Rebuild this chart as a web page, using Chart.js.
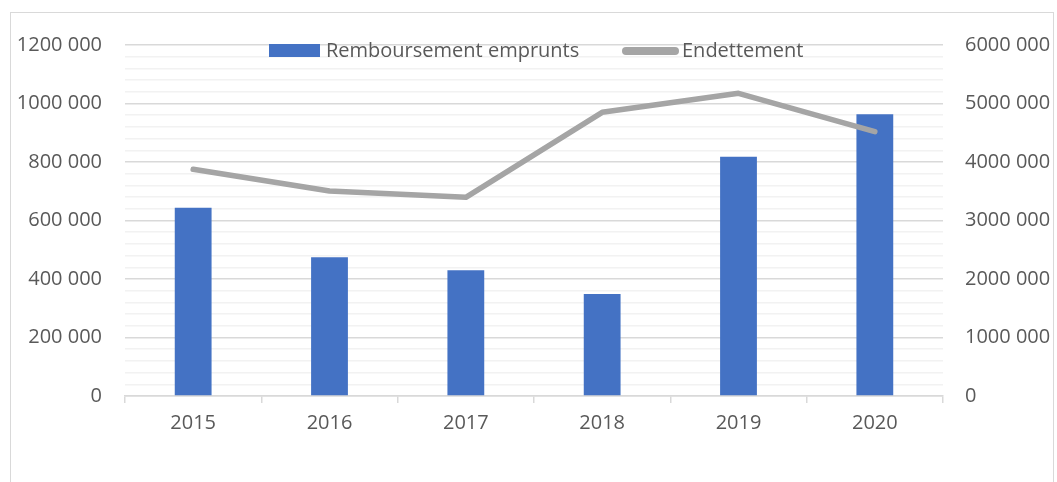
<!DOCTYPE html>
<html>
<head>
<meta charset="utf-8">
<script src="https://cdn.jsdelivr.net/npm/chart.js@4.4.1/dist/chart.umd.min.js"></script>
<style>
  html, body { margin: 0; padding: 0; background: #ffffff; }
  #wrap { position: relative; width: 1057px; height: 482px; overflow: hidden; }
  #frame { position: absolute; left: 10px; top: 12px; width: 1044px; height: 480px; border: 1px solid #d9d9d9; box-sizing: border-box; }
  #c { position: absolute; left: 0; top: 0; }
</style>
</head>
<body>
<div id="wrap">
  <div id="frame"></div>
  <canvas id="c" width="1057" height="482"></canvas>
</div>
<script>
// ---- Data ----
const categories = ['2015', '2016', '2017', '2018', '2019', '2020'];
const remboursementLabel = 'Remboursement emprunts';
const remboursement = [644000, 474000, 430000, 349000, 818000, 963000];
const endettementLabel = 'Endettement';
const endettement = [3875000, 3504000, 3396000, 4849000, 5174000, 4518000];
const leftTickLabels = ['0', '200 000', '400 000', '600 000', '800 000', '1000 000', '1200 000'];
const rightTickLabels = ['0', '1000 000', '2000 000', '3000 000', '4000 000', '5000 000', '6000 000'];

const FONT = "'Open Sans', 'Noto Sans', sans-serif";
const TEXT = '#595959';
const BAR = '#4472C4';
const LINE = '#A5A5A5';

const legendPlugin = {
  id: 'customLegend',
  afterDraw(chart) {
    const ctx = chart.ctx;
    const ds = chart.data.datasets;
    ctx.save();
    ctx.font = '20px ' + FONT;
    ctx.fillStyle = TEXT;
    ctx.textBaseline = 'alphabetic';
    // bar entry
    ctx.fillStyle = ds[0].backgroundColor;
    ctx.fillRect(269, 44, 51, 13);
    ctx.fillStyle = TEXT;
    ctx.fillText(ds[0].label, 326, 57);
    // line entry
    ctx.strokeStyle = ds[1].borderColor;
    ctx.lineWidth = 8;
    ctx.lineCap = 'round';
    ctx.beginPath();
    ctx.moveTo(626, 51);
    ctx.lineTo(675, 51);
    ctx.stroke();
    ctx.fillText(ds[1].label, 682, 57);
    ctx.restore();
  }
};

new Chart(document.getElementById('c'), {
  type: 'bar',
  data: {
    labels: categories,
    datasets: [
      {
        type: 'bar',
        label: remboursementLabel,
        data: remboursement,
        backgroundColor: BAR,
        borderWidth: 0,
        categoryPercentage: 1,
        barPercentage: 0.27,
        yAxisID: 'y',
        order: 2
      },
      {
        type: 'line',
        label: endettementLabel,
        data: endettement,
        borderColor: LINE,
        backgroundColor: LINE,
        borderWidth: 5.5,
        borderCapStyle: 'round',
        borderJoinStyle: 'round',
        pointRadius: 0,
        pointHoverRadius: 0,
        tension: 0,
        fill: false,
        yAxisID: 'y1',
        order: 1
      }
    ]
  },
  options: {
    responsive: false,
    animation: false,
    devicePixelRatio: 1,
    layout: { padding: { left: 0, right: 0, top: 45, bottom: 0 } },
    plugins: {
      legend: { display: false },
      tooltip: { enabled: false },
      title: { display: false }
    },
    scales: {
      x: {
        offset: true,
        grid: {
          offset: true,
          drawOnChartArea: false,
          drawTicks: true,
          tickLength: 7,
          color: '#d9d9d9',
          lineWidth: 1.5
        },
        border: { display: true, color: '#d9d9d9', width: 1.5 },
        ticks: {
          color: TEXT,
          font: { family: FONT, size: 20 },
          padding: 8,
          maxRotation: 0
        },
        afterFit(scale) { scale.height = 86; }
      },
      y: {
        position: 'left',
        min: 0,
        max: 1200000,
        grid: {
          drawTicks: false,
          color: (c) => (c.tick && c.tick.value % 200000 === 0) ? '#d9d9d9' : '#f2f2f2',
          lineWidth: (c) => (c.tick && c.tick.value % 200000 === 0) ? 1.5 : 1.5
        },
        border: { display: false },
        ticks: {
          stepSize: 40000,
          autoSkip: false,
          color: TEXT,
          font: { family: FONT, size: 20 },
          padding: 23,
          callback: (v) => (v % 200000 === 0) ? leftTickLabels[Math.round(v / 200000)] : ''
        },
        afterFit(scale) { scale.width = 125; }
      },
      y1: {
        position: 'right',
        min: 0,
        max: 6000000,
        grid: { drawOnChartArea: false, drawTicks: false },
        border: { display: false },
        ticks: {
          stepSize: 1000000,
          color: TEXT,
          font: { family: FONT, size: 20 },
          padding: 22,
          callback: (v) => rightTickLabels[Math.round(v / 1000000)]
        },
        afterFit(scale) { scale.width = 114; }
      }
    }
  },
  plugins: [legendPlugin]
});
</script>
</body>
</html>
